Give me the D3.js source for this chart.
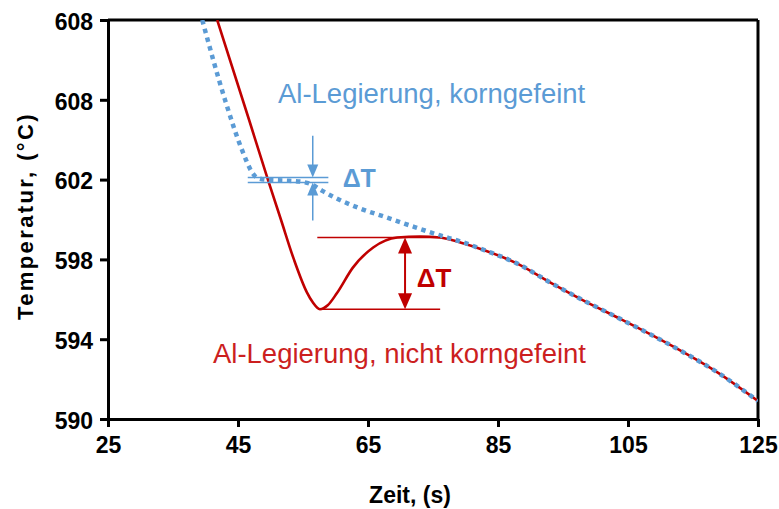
<!DOCTYPE html>
<html><head><meta charset="utf-8">
<script src="https://cdn.jsdelivr.net/npm/d3@7"></script>
<style>
html,body{margin:0;padding:0;background:#fff;}
svg{display:block;}
</style></head>
<body>
<svg id="chart" width="779" height="509"></svg>
<script>
// ---- data ----
const xTicks = [25, 45, 65, 85, 105, 125];
const yTickValues = [590, 594, 598, 602, 606, 610];
const yTickLabels = ["590", "594", "598", "602", "608", "608"];

// grain refined alloy (blue dotted)
const blueTime = [39.5, 43.0, 45.6, 47.3, 47.9, 49.2, 52.2, 54.5, 56.4, 57.9, 59.9, 63.8, 67.9, 71.9, 76.1, 79.2, 83.0, 87.9, 93.0, 98.1, 103.3, 108.4, 113.5, 118.7, 125.0];
const blueTemp = [610.0, 606.0, 603.5, 602.3, 602.1, 602.0, 601.95, 601.9, 601.75, 601.45, 601.1, 600.55, 600.1, 599.65, 599.2, 598.9, 598.45, 597.8, 596.85, 595.95, 595.1, 594.25, 593.35, 592.35, 590.9];

// not grain refined alloy (red solid)
const redTime = [41.8, 46.7, 49.6, 51.6, 53.6, 55.6, 56.5, 57.6, 58.8, 60.2, 62.7, 65.8, 69.5, 73.0, 76.1, 79.2, 83.0, 87.9, 93.0, 98.1, 103.3, 108.4, 113.5, 118.7, 125.0];
const redTemp = [610.0, 605.0, 602.0, 600.0, 598.0, 596.35, 595.85, 595.5, 595.7, 596.3, 597.6, 598.6, 599.1, 599.15, 599.1, 598.85, 598.45, 597.8, 596.85, 595.95, 595.1, 594.25, 593.35, 592.35, 590.9];

// annotation values (data units)
const redDeltaLow = 595.5, redDeltaHigh = 599.1;
const redDeltaTime = [57.2, 76.1];
const redArrowTime = 70.7;
const blueDeltaLow = 601.85, blueDeltaHigh = 602.1;
const blueDeltaTime = [46.5, 58.9];
const blueArrowTime = 56.5;

const labels = {
  xTitle: "Zeit, (s)",
  yTitle: "Temperatur, (°C)",
  blue: "Al-Legierung, korngefeint",
  red: "Al-Legierung, nicht korngefeint",
  delta: "ΔT"
};

// ---- layout ----
const margin = {left: 108, right: 21, top: 20, bottom: 90};
const W = 779, H = 509;
const blueC = "#5B9BD5", redC = "#C00000", redText = "#CC1F1F";
const FONT = "'Liberation Sans', Arial, sans-serif";

const svg = d3.select("#chart");
const x = d3.scaleLinear().domain([25, 125]).range([margin.left, W - margin.right]);
const y = d3.scaleLinear().domain([590, 610]).range([H - margin.bottom, margin.top]);

svg.append("defs").append("clipPath").attr("id", "clip")
  .append("rect").attr("x", x(25)).attr("y", y(610))
  .attr("width", x(125) - x(25)).attr("height", y(590) - y(610));

// frame top/right
svg.append("line").attr("x1", x(25)).attr("x2", x(125)).attr("y1", y(610)).attr("y2", y(610))
  .attr("stroke", "#000").attr("stroke-width", 3);
svg.append("line").attr("x1", x(125)).attr("x2", x(125)).attr("y1", y(610)).attr("y2", y(590))
  .attr("stroke", "#000").attr("stroke-width", 3);

// axes
const xAxis = svg.append("g").attr("transform", `translate(0,${y(590)})`)
  .call(d3.axisBottom(x).tickValues(xTicks).tickSize(8).tickSizeOuter(0).tickPadding(10));
const yAxis = svg.append("g").attr("transform", `translate(${x(25)},0)`)
  .call(d3.axisLeft(y).tickValues(yTickValues).tickFormat((d, i) => yTickLabels[i]).tickSize(8).tickSizeOuter(0).tickPadding(7));
[xAxis, yAxis].forEach(g => {
  g.select(".domain").attr("stroke", "#000").attr("stroke-width", 3);
  g.selectAll(".tick line").attr("stroke", "#000").attr("stroke-width", 3);
  g.selectAll(".tick text").attr("fill", "#000").style("font-family", FONT)
    .style("font-size", "23px").style("font-weight", "bold");
});
yAxis.selectAll(".tick text").attr("dy", "0.4em");

// axis titles
svg.append("text").attr("x", 410).attr("y", 503).attr("text-anchor", "middle")
  .style("font-family", FONT).style("font-size", "23px").style("font-weight", "bold")
  .text(labels.xTitle);
svg.append("text").attr("transform", `translate(33,216) rotate(-90)`).attr("text-anchor", "middle")
  .style("font-family", FONT).style("font-size", "22px").style("font-weight", "bold")
  .style("letter-spacing", "2.4px")
  .text(labels.yTitle);

// curves
const line = d3.line().x(d => x(d[0])).y(d => y(d[1])).curve(d3.curveMonotoneX);
const curves = svg.append("g").attr("clip-path", "url(#clip)");
curves.append("path").datum(redTime.map((t, i) => [t, redTemp[i]]))
  .attr("d", line).attr("fill", "none").attr("stroke", redC).attr("stroke-width", 2.6);
curves.append("path").datum(blueTime.map((t, i) => [t, blueTemp[i]]))
  .attr("d", line).attr("fill", "none").attr("stroke", blueC).attr("stroke-width", 4.5)
  .attr("stroke-dasharray", "4.5,4.5");

// arrowhead helper
function head(g, px, py, dir, w, l, color) {
  // dir: +1 pointing down, -1 pointing up; (px,py) = tip
  g.append("path")
    .attr("d", `M${px},${py} L${px - w / 2},${py - dir * l} L${px + w / 2},${py - dir * l} Z`)
    .attr("fill", color);
}

// red ΔT annotation
const ra = svg.append("g");
ra.append("line").attr("x1", x(redDeltaTime[0])).attr("x2", x(redDeltaTime[1]))
  .attr("y1", y(redDeltaHigh)).attr("y2", y(redDeltaHigh)).attr("stroke", redC).attr("stroke-width", 1.6);
ra.append("line").attr("x1", x(redDeltaTime[0]) + 3).attr("x2", x(redDeltaTime[1]))
  .attr("y1", y(redDeltaLow)).attr("y2", y(redDeltaLow)).attr("stroke", redC).attr("stroke-width", 1.6);
ra.append("line").attr("x1", x(redArrowTime)).attr("x2", x(redArrowTime))
  .attr("y1", y(redDeltaHigh) + 8).attr("y2", y(redDeltaLow) - 8).attr("stroke", redC).attr("stroke-width", 2);
head(ra, x(redArrowTime), y(redDeltaHigh), -1, 14, 16, redC);
head(ra, x(redArrowTime), y(redDeltaLow), 1, 14, 16, redC);
svg.append("text").attr("x", x(72.5)).attr("y", y(596.6)).attr("fill", redC)
  .style("font-family", FONT).style("font-size", "26px").style("font-weight", "bold").text(labels.delta);

// blue ΔT annotation
const ba = svg.append("g");
[blueDeltaHigh, blueDeltaLow].forEach(v => {
  ba.append("line").attr("x1", x(blueDeltaTime[0])).attr("x2", x(blueDeltaTime[1]))
    .attr("y1", y(v)).attr("y2", y(v)).attr("stroke", blueC).attr("stroke-width", 1.5);
});
ba.append("line").attr("x1", x(blueArrowTime)).attr("x2", x(blueArrowTime))
  .attr("y1", y(604.2)).attr("y2", y(blueDeltaHigh) - 6).attr("stroke", blueC).attr("stroke-width", 1.5);
ba.append("line").attr("x1", x(blueArrowTime)).attr("x2", x(blueArrowTime))
  .attr("y1", y(599.95)).attr("y2", y(blueDeltaLow) + 6).attr("stroke", blueC).attr("stroke-width", 1.5);
head(ba, x(blueArrowTime), y(blueDeltaHigh), 1, 11, 13, blueC);
head(ba, x(blueArrowTime), y(blueDeltaLow), -1, 11, 13, blueC);
svg.append("text").attr("x", x(61.1)).attr("y", y(601.65)).attr("fill", blueC)
  .style("font-family", FONT).style("font-size", "25px").style("font-weight", "bold").text(labels.delta);

// series labels
svg.append("text").attr("x", x(51.15)).attr("y", y(605.85)).attr("fill", blueC)
  .style("font-family", FONT).style("font-size", "27.5px").text(labels.blue);
svg.append("text").attr("x", x(41.15)).attr("y", y(592.8)).attr("fill", redText)
  .style("font-family", FONT).style("font-size", "27.5px").text(labels.red);
</script>
</body></html>
